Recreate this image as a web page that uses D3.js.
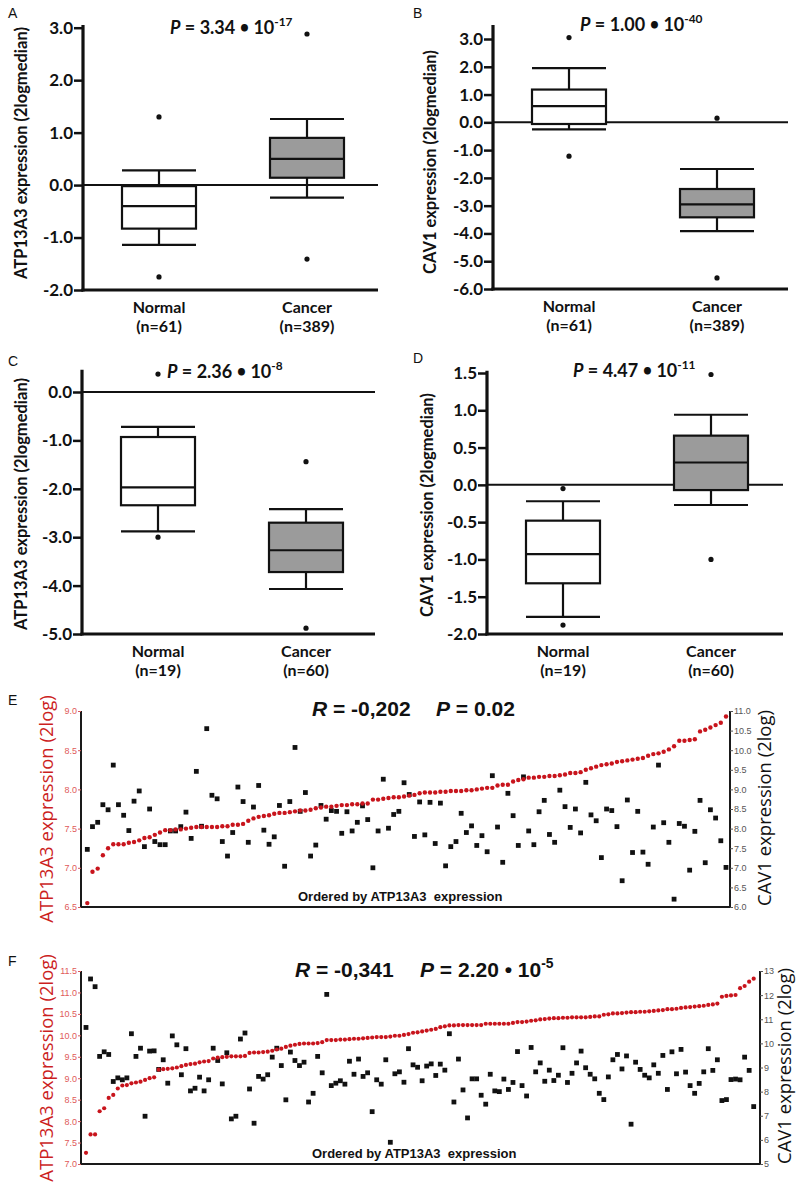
<!DOCTYPE html>
<html><head><meta charset="utf-8">
<script src="https://cdn.jsdelivr.net/npm/d3@7"></script>
<style>body{margin:0;background:#fff} svg{display:block}</style>
</head><body>
<svg id="c" width="800" height="1191"></svg>
<script>
// ---------- DATA ----------
const groups = ["Normal", "Cancer"];
const countsAB = ["(n=61)", "(n=389)"];
const countsCD = ["(n=19)", "(n=60)"];

const ticksA = [-2, -1, 0, 1, 2, 3];
const ticksB = [-6, -5, -4, -3, -2, -1, 0, 1, 2, 3];
const ticksC = [-5, -4, -3, -2, -1, 0];
const ticksD = [-2, -1.5, -1, -0.5, 0, 0.5, 1, 1.5];

// [whisker low, Q1, median, Q3, whisker high]
const boxA = [[-1.14, -0.83, -0.40, -0.02, 0.28], [-0.24, 0.14, 0.50, 0.90, 1.26]];
const boxB = [[-0.25, -0.06, 0.58, 1.18, 1.95], [-3.92, -3.42, -2.95, -2.40, -1.68]];
const boxC = [[-2.88, -2.34, -1.97, -0.93, -0.72], [-4.07, -3.72, -3.27, -2.70, -2.42]];
const boxD = [[-1.77, -1.32, -0.93, -0.48, -0.22], [-0.27, -0.07, 0.30, 0.66, 0.94]];
const outA = [[1.30, -1.75], [2.88, -1.41]];
const outB = [[3.05, -1.22], [0.15, -5.60]];
const outC = [[0.37, -3.00], [-1.44, -4.88]];
const outD = [[-0.05, -1.88], [1.48, -1.00]];
const pA = ["3.34", "-17"], pB = ["1.00", "-40"], pC = ["2.36", "-8"], pD = ["4.47", "-11"];

const eLeftTicks = [6.5, 7.0, 7.5, 8.0, 8.5, 9.0];
const eRightTicks = [6.0, 6.5, 7.0, 7.5, 8.0, 8.5, 9.0, 9.5, 10.0, 10.5, 11.0];
const fLeftTicks = [7.0, 7.5, 8.0, 8.5, 9.0, 9.5, 10.0, 10.5, 11.0, 11.5];
const fRightTicks = [5, 6, 7, 8, 9, 10, 11, 12, 13];

// Panel E: ATP13A3 (red, left axis) and CAV1 (black, right axis), ordered by ATP13A3
const eATP = [6.55,6.95,6.99,7.16,7.25,7.30,7.30,7.30,7.32,7.33,
7.35,7.38,7.39,7.42,7.45,7.48,7.48,7.49,7.49,7.50,
7.51,7.52,7.52,7.52,7.52,7.52,7.53,7.53,7.55,7.55,
7.56,7.60,7.63,7.65,7.66,7.67,7.69,7.70,7.70,7.71,
7.72,7.73,7.73,7.74,7.76,7.77,7.78,7.78,7.79,7.80,
7.80,7.81,7.81,7.82,7.82,7.87,7.87,7.88,7.89,7.90,
7.90,7.91,7.92,7.93,7.95,7.96,7.96,7.96,7.97,7.97,
7.98,7.98,7.98,7.99,7.99,8.00,8.01,8.02,8.02,8.05,
8.06,8.06,8.10,8.12,8.13,8.15,8.15,8.16,8.16,8.17,
8.17,8.18,8.19,8.21,8.21,8.22,8.25,8.27,8.29,8.31,
8.32,8.33,8.35,8.36,8.37,8.38,8.39,8.40,8.43,8.45,
8.46,8.48,8.51,8.55,8.62,8.62,8.63,8.64,8.74,8.76,
8.79,8.82,8.85,8.93];
const eCAV = [7.47,8.05,8.16,8.61,8.48,9.62,8.61,8.34,7.95,8.70,
8.96,7.54,8.50,7.67,7.59,7.59,7.94,7.94,8.05,8.42,
7.75,9.46,8.06,10.55,8.85,8.76,7.67,7.30,7.90,9.06,
8.69,7.65,8.55,9.10,7.96,7.60,7.79,8.59,7.04,8.69,
10.07,8.44,8.92,7.30,7.58,8.59,8.24,8.46,8.44,7.88,
8.43,7.94,8.16,8.58,8.23,7.00,7.94,9.26,8.01,8.36,
8.44,9.17,8.87,7.80,8.68,7.84,8.67,7.62,8.65,7.05,
7.54,7.67,8.39,7.90,8.07,7.57,7.82,7.41,9.35,8.04,
7.14,8.90,8.33,7.57,9.32,7.94,7.59,8.43,8.72,7.85,
7.65,8.98,8.56,8.03,8.50,7.89,9.18,8.35,8.20,7.26,
8.50,8.46,8.05,6.67,8.73,7.39,8.44,7.40,7.09,8.04,
9.62,8.15,7.65,6.20,8.13,8.06,6.94,7.93,8.72,7.13,
8.48,8.27,7.69,7.01];

// Panel F
const fATP = [7.26,7.69,7.69,8.23,8.30,8.54,8.61,8.76,8.83,8.84,
8.88,8.90,8.92,8.96,9.00,9.02,9.20,9.21,9.22,9.23,
9.25,9.28,9.31,9.33,9.34,9.37,9.39,9.40,9.46,9.48,
9.49,9.50,9.51,9.51,9.51,9.52,9.59,9.60,9.60,9.61,
9.62,9.64,9.67,9.69,9.73,9.76,9.78,9.80,9.81,9.81,
9.81,9.82,9.84,9.89,9.89,9.89,9.90,9.90,9.91,9.92,
9.92,9.93,9.94,9.95,9.96,9.96,9.96,9.97,9.99,9.99,
10.01,10.03,10.06,10.07,10.09,10.11,10.13,10.15,10.19,10.21,
10.23,10.23,10.24,10.24,10.24,10.24,10.24,10.24,10.27,10.27,
10.27,10.27,10.27,10.27,10.29,10.31,10.31,10.32,10.34,10.35,
10.37,10.38,10.39,10.40,10.40,10.41,10.41,10.42,10.42,10.42,
10.42,10.43,10.44,10.44,10.48,10.49,10.51,10.51,10.52,10.53,
10.54,10.54,10.55,10.55,10.56,10.57,10.58,10.59,10.61,10.61,
10.62,10.64,10.65,10.66,10.67,10.68,10.69,10.71,10.72,10.74,
10.90,10.92,10.93,10.94,11.10,11.15,11.25,11.32];
const fCAV = [10.66,12.67,12.35,9.46,9.65,9.54,8.42,8.57,8.49,8.57,
10.40,9.46,9.80,6.98,9.68,9.69,8.92,9.32,8.35,10.31,
9.94,8.70,9.78,8.03,8.14,8.60,8.03,8.49,9.80,9.29,
8.32,9.61,6.87,6.98,10.18,10.43,8.11,6.69,8.63,8.52,
8.70,9.43,9.80,9.08,7.66,9.64,9.29,9.08,9.22,7.57,
7.93,9.46,8.78,12.03,8.25,8.35,8.45,8.31,9.26,8.72,
9.35,8.63,8.78,7.17,8.49,8.31,9.32,5.90,8.74,8.82,
8.39,9.78,9.11,9.01,8.45,9.06,9.15,8.67,9.14,8.89,
10.40,7.57,9.35,8.07,6.91,8.53,8.53,7.85,7.48,8.72,
8.03,8.00,8.52,8.09,8.38,9.66,8.25,7.82,9.83,8.82,
9.19,8.43,8.89,8.46,8.68,9.82,8.38,8.76,9.19,9.68,
8.99,8.72,8.53,7.93,7.67,8.61,9.32,9.54,8.94,9.48,
6.65,9.22,8.92,8.68,8.57,9.11,8.76,9.50,8.09,9.65,
8.74,9.75,8.81,8.25,7.93,8.34,8.82,9.78,8.88,9.32,
7.63,7.67,8.50,8.52,8.49,9.43,8.88,7.38];

const rE = "-0,202", pE = "0.02";
const rF = "-0,341", pF = ["2.20", "-5"];

// ---------- DRAWING ----------
const svg = d3.select("#c");
svg.append("rect").attr("width", 800).attr("height", 1191).attr("fill", "#fff");
const BOXFONT = "Lato, 'Open Sans', sans-serif";
const ARIAL = "'Liberation Sans', Arial, sans-serif";
const TITLEFONT = "'Open Sans', 'Liberation Sans', sans-serif";
const INK = "#111";

function panelLabel(t, x, y) {
  svg.append("text").attr("x", x).attr("y", y).text(t)
    .attr("font-family", ARIAL).attr("font-size", 14).attr("fill", INK);
}

function pText(g, x, y, parts, size, font, bulletScale, bulletLift) {
  const t = g.append("text").attr("x", x).attr("y", y)
    .attr("font-family", font).attr("font-weight", 700).attr("font-size", size).attr("fill", INK);
  t.append("tspan").attr("font-style", "italic").text("P");
  t.append("tspan").text(" = " + parts[0] + (parts.length > 1 ? " " : ""));
  if (parts.length > 1) {
    t.append("tspan").attr("font-size", size * bulletScale).attr("dy", -bulletLift).text("\u2022");
    t.append("tspan").attr("dy", bulletLift).text(" 10");
    t.append("tspan").attr("dy", -size * 0.42).attr("font-size", size * 0.66).text(parts[1]);
  }
}

function boxPanel(o) {
  const g = svg.append("g");
  const y = d3.scaleLinear().domain(o.domain).range(o.range);
  const x = d3.scalePoint().domain(groups).range([o.x0 + 76, o.x0 + 224]);
  const bw = 74;
  const yb = y(o.domain[0]);
  g.append("line").attr("x1", o.x0).attr("x2", o.x1).attr("y1", y(0)).attr("y2", y(0))
    .attr("stroke", INK).attr("stroke-width", 2);
  const ax = g.append("g").attr("transform", `translate(${o.x0},0)`)
    .call(d3.axisLeft(y).tickValues(o.ticks).tickFormat(d => d.toFixed(1)).tickSize(9).tickSizeOuter(0));
  ax.select(".domain").remove();
  ax.selectAll(".tick line").attr("stroke", INK).attr("stroke-width", 2.5);
  ax.selectAll(".tick text").attr("font-family", BOXFONT).attr("font-weight", 700)
    .attr("font-size", 17).attr("fill", INK).attr("x", -10);
  g.append("line").attr("x1", o.x0).attr("x2", o.x0).attr("y1", y(o.axisTop)).attr("y2", yb + 1.5)
    .attr("stroke", INK).attr("stroke-width", 3.2);
  g.append("line").attr("x1", o.x0 - 1.6).attr("x2", o.x1).attr("y1", yb).attr("y2", yb)
    .attr("stroke", INK).attr("stroke-width", 3.2);
  o.stats.forEach((s, i) => {
    const cx = x(groups[i]);
    const bg = g.append("g").attr("stroke", INK).attr("stroke-width", 2.2).attr("fill", "none");
    bg.append("line").attr("x1", cx).attr("x2", cx).attr("y1", y(s[3])).attr("y2", y(s[4]));
    bg.append("line").attr("x1", cx).attr("x2", cx).attr("y1", y(s[1])).attr("y2", y(s[0]));
    bg.append("line").attr("x1", cx - bw / 2).attr("x2", cx + bw / 2).attr("y1", y(s[4])).attr("y2", y(s[4]));
    bg.append("line").attr("x1", cx - bw / 2).attr("x2", cx + bw / 2).attr("y1", y(s[0])).attr("y2", y(s[0]));
    bg.append("rect").attr("x", cx - bw / 2).attr("width", bw).attr("y", y(s[3]))
      .attr("height", y(s[1]) - y(s[3])).attr("fill", i === 0 ? "#fff" : "#9b9b9b");
    bg.append("line").attr("x1", cx - bw / 2).attr("x2", cx + bw / 2).attr("y1", y(s[2])).attr("y2", y(s[2]));
    o.out[i].forEach(v => g.append("circle").attr("cx", cx).attr("cy", y(v)).attr("r", 2.6).attr("fill", INK));
    g.append("text").attr("x", cx).attr("y", yb + 23).attr("text-anchor", "middle").text(groups[i])
      .attr("font-family", BOXFONT).attr("font-weight", 700).attr("font-size", 16).attr("fill", INK);
    g.append("text").attr("x", cx).attr("y", yb + 42).attr("text-anchor", "middle").text(o.counts[i])
      .attr("font-family", BOXFONT).attr("font-weight", 700).attr("font-size", 16).attr("fill", INK);
  });
  g.append("text").attr("transform", `translate(${o.tx},${o.ty}) rotate(-90)`)
    .attr("text-anchor", "middle").attr("dy", "0.35em").text(o.title)
    .attr("font-family", BOXFONT).attr("font-weight", 700).attr("font-size", 16.5).attr("fill", INK);
  pText(g, o.px, o.py, o.p, 18, BOXFONT, 0.9, 1.5);
}

boxPanel({x0: 83, x1: 378, domain: [-2, 3], range: [290, 27.7], axisTop: 3.05, ticks: ticksA,
  stats: boxA, out: outA, counts: countsAB, title: "ATP13A3 expression (2logmedian)", tx: 21, ty: 153,
  p: pA, px: 170, py: 34});
boxPanel({x0: 493, x1: 788, domain: [-6, 3], range: [289, 39], axisTop: 3.5, ticks: ticksB,
  stats: boxB, out: outB, counts: countsAB, title: "CAV1 expression (2logmedian)", tx: 430, ty: 162,
  p: pB, px: 580, py: 31});
boxPanel({x0: 82, x1: 375, domain: [-5, 0], range: [634, 392], axisTop: 0.46, ticks: ticksC,
  stats: boxC, out: outC, counts: countsCD, title: "ATP13A3 expression (2logmedian)", tx: 21, ty: 504,
  p: pC, px: 167, py: 378});
boxPanel({x0: 487, x1: 783, domain: [-2, 1.5], range: [634, 373], axisTop: 1.53, ticks: ticksD,
  stats: boxD, out: outD, counts: countsCD, title: "CAV1 expression (2logmedian)", tx: 427, ty: 505,
  p: pD, px: 573, py: 377});

panelLabel("A", 8, 18); panelLabel("B", 413, 18);
panelLabel("C", 8, 366); panelLabel("D", 413, 363);
panelLabel("E", 8, 705); panelLabel("F", 8, 966);

function scatterPanel(o) {
  const g = svg.append("g");
  const n = o.red.length;
  const x = d3.scaleLinear().domain([0, n - 1]).range([o.xa, o.xb]);
  const yl = d3.scaleLinear().domain(o.ldom).range([o.bot, o.top]);
  const yr = d3.scaleLinear().domain(o.rdom).range([o.bot, o.top]);
  const fr = g.append("g").attr("stroke", "#1a1a1a").attr("stroke-width", 2).attr("fill", "none");
  fr.append("path").attr("d", `M${o.left},${o.top}V${o.bot}H${o.right}V${o.top}`);
  const la = g.append("g").attr("transform", `translate(${o.left},0)`)
    .call(d3.axisLeft(yl).tickValues(o.lt).tickFormat(d => d.toFixed(1)).tickSize(3).tickSizeOuter(0));
  la.select(".domain").remove();
  la.selectAll(".tick line").attr("stroke", "#d85a5a");
  la.selectAll(".tick text").attr("font-family", ARIAL).attr("font-size", 9).attr("fill", "#e05a5a").attr("x", -4);
  const ra = g.append("g").attr("transform", `translate(${o.right},0)`)
    .call(d3.axisRight(yr).tickValues(o.rt).tickFormat(o.rfmt).tickSize(3).tickSizeOuter(0));
  ra.select(".domain").remove();
  ra.selectAll(".tick line").attr("stroke", "#555");
  ra.selectAll(".tick text").attr("font-family", ARIAL).attr("font-size", 9).attr("fill", "#555").attr("x", 4);
  g.append("g").selectAll("rect").data(o.black).join("rect")
    .attr("x", (d, i) => x(i) - 2.4).attr("y", d => yr(d) - 2.4).attr("width", 4.8).attr("height", 4.8)
    .attr("fill", "#111");
  g.append("g").selectAll("circle").data(o.red).join("circle")
    .attr("cx", (d, i) => x(i)).attr("cy", d => yl(d)).attr("r", o.r).attr("fill", "#c8141c");
  g.append("text").attr("transform", `translate(${o.ltx},${o.lty}) rotate(-90)`)
    .attr("text-anchor", "middle").attr("dy", "0.35em").text("ATP13A3 expression (2log)")
    .attr("font-family", TITLEFONT).attr("font-size", 18.5).attr("fill", "#cc1f1f");
  g.append("text").attr("transform", `translate(${o.rtx},${o.rty}) rotate(-90)`)
    .attr("text-anchor", "middle").attr("dy", "0.35em").text("CAV1 expression (2log)")
    .attr("font-family", TITLEFONT).attr("font-size", 18.5).attr("fill", INK);
  g.append("text").attr("x", o.ox).attr("y", o.oy).text("Ordered by ATP13A3\u00a0 expression")
    .attr("font-family", ARIAL).attr("font-weight", 700).attr("font-size", 13).attr("fill", INK);
  const rt = g.append("text").attr("x", o.rx).attr("y", o.ry)
    .attr("font-family", ARIAL).attr("font-weight", 700).attr("font-size", 21).attr("fill", INK);
  rt.append("tspan").attr("font-style", "italic").text("R");
  rt.append("tspan").text(" = " + o.rv);
  pText(g, o.ppx, o.ry, o.pv, 21, ARIAL, 1, 0);
}

scatterPanel({red: eATP, black: eCAV, xa: 87.3, xb: 726, left: 81, right: 730, top: 711, bot: 907,
  ldom: [6.5, 9.0], rdom: [6, 11], lt: eLeftTicks, rt: eRightTicks, rfmt: d => d.toFixed(1), r: 2.2,
  ltx: 47, lty: 809, rtx: 765, rty: 808, ox: 298, oy: 901, rx: 312, ry: 716, rv: rE, ppx: 436, pv: [pE]});
scatterPanel({red: fATP, black: fCAV, xa: 86, xb: 753.7, left: 81, right: 760, top: 971, bot: 1164,
  ldom: [7.0, 11.5], rdom: [5, 13], lt: fLeftTicks, rt: fRightTicks, rfmt: d => d, r: 2.1,
  ltx: 47, lty: 1068, rtx: 785, rty: 1066, ox: 312, oy: 1158, rx: 295, ry: 977, rv: rF, ppx: 420, pv: pF});
</script>
</body></html>
